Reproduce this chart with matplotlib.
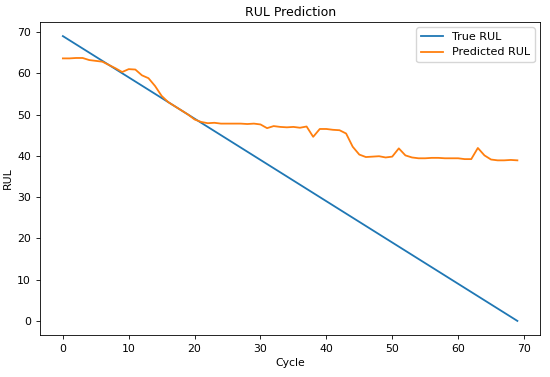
import numpy as np
import matplotlib
matplotlib.use('Agg')
import matplotlib.pyplot as plt

cycles = list(range(70))
true_rul = [69 - c for c in cycles]
predicted_rul = [
    63.6, 63.6, 63.7, 63.7, 63.2, 63.0, 62.8, 62.0, 61.2, 60.3,
    61.0, 60.9, 59.5, 58.8, 56.9, 54.5, 53.0, 52.0, 51.0, 50.0,
    48.8, 48.2, 47.9, 48.0, 47.8, 47.8, 47.8, 47.8, 47.7, 47.8,
    47.6, 46.7, 47.2, 47.0, 46.9, 47.0, 46.8, 47.1, 44.6, 46.5,
    46.5, 46.3, 46.2, 45.4, 42.2, 40.3, 39.7, 39.8, 39.9, 39.6,
    39.8, 41.8, 40.1, 39.6, 39.4, 39.4, 39.5, 39.5, 39.4, 39.4,
    39.4, 39.2, 39.2, 41.9, 40.1, 39.1, 38.9, 38.9, 39.0, 38.9,
]

plt.rcParams['font.size'] = 7.8
plt.rcParams['axes.titlesize'] = 9
plt.rcParams['legend.fontsize'] = 8
plt.rcParams['axes.linewidth'] = 0.6
plt.rcParams['xtick.major.width'] = 0.6
plt.rcParams['ytick.major.width'] = 0.6
plt.rcParams['xtick.major.size'] = 3
plt.rcParams['ytick.major.size'] = 3

fig, ax = plt.subplots(figsize=(5.5, 3.77), dpi=100)
ax.plot(cycles, true_rul, label='True RUL', linewidth=1.3)
ax.plot(cycles, predicted_rul, label='Predicted RUL', linewidth=1.3)
ax.set_title('RUL Prediction', pad=4)
ax.set_xlabel('Cycle', labelpad=3)
ax.set_ylabel('RUL', labelpad=3)
ax.legend(loc='upper right')
fig.subplots_adjust(left=0.073, right=0.982, top=0.942, bottom=0.111)
fig.savefig('out.png', dpi=100)
